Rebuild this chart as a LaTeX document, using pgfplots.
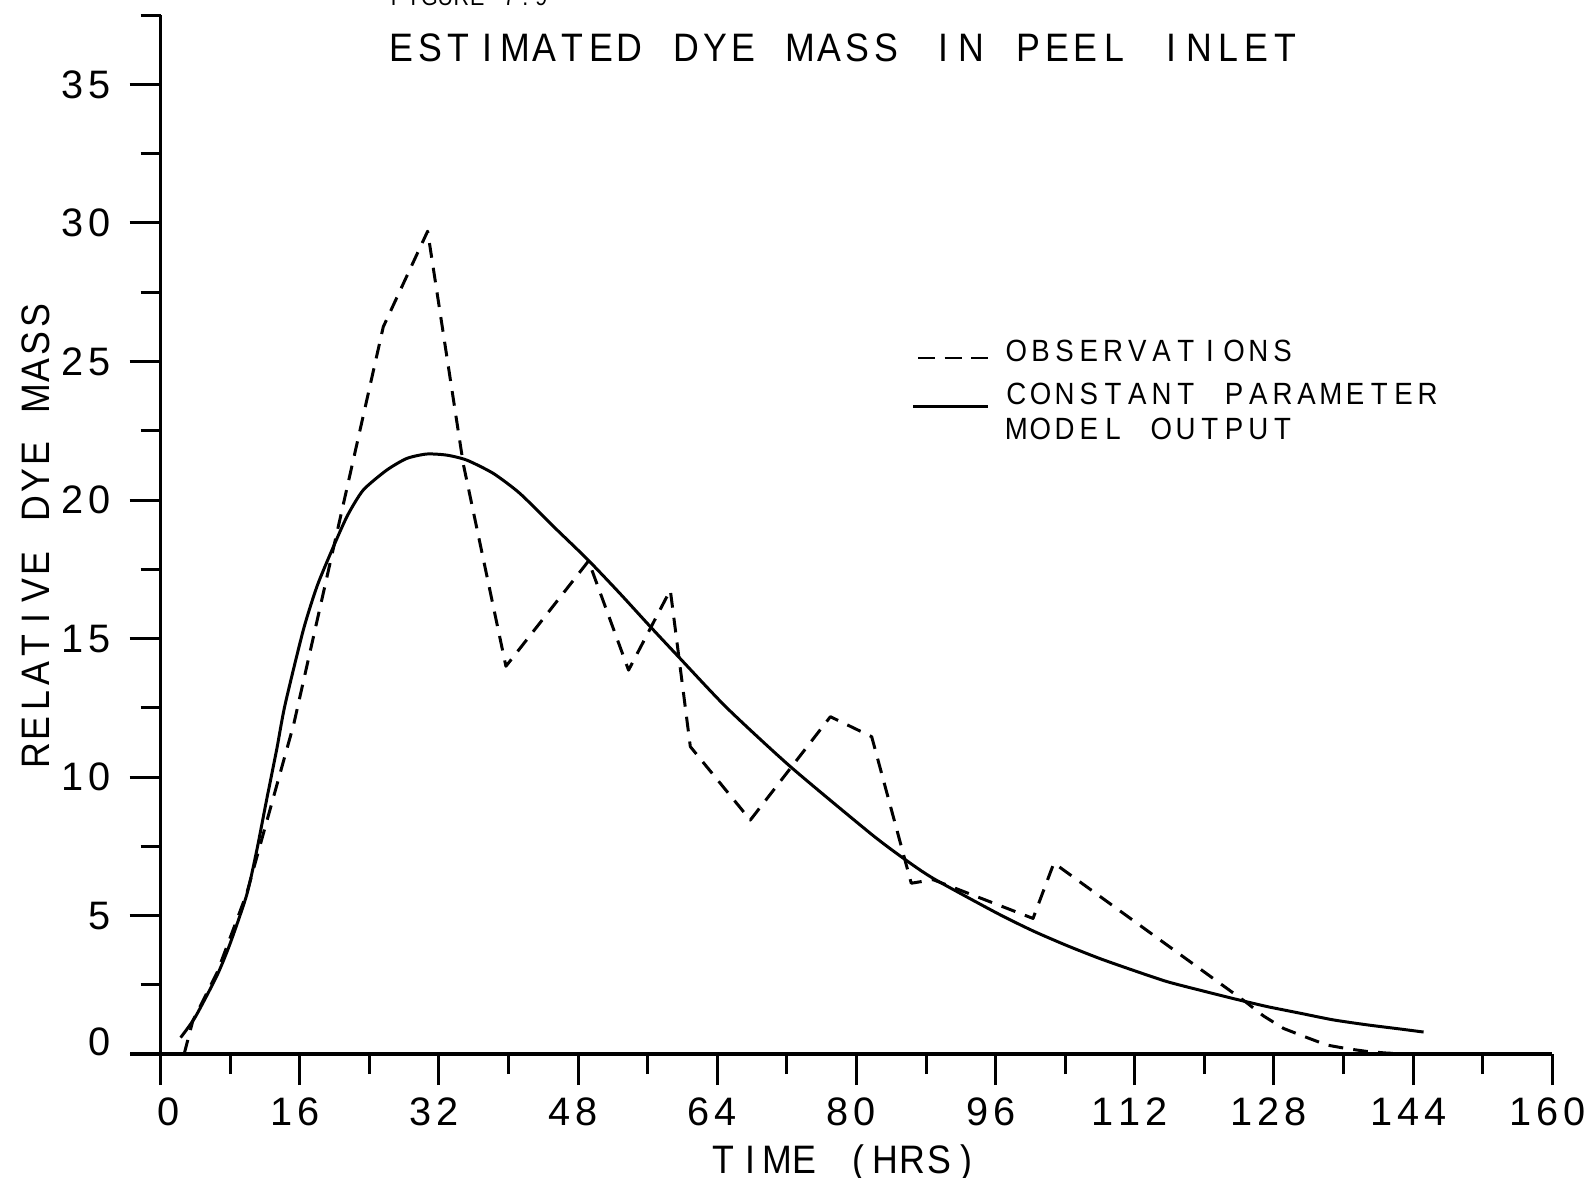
\documentclass[border=0pt]{standalone}
\usepackage{pgfplots}
\usepackage{pgfplotstable}
\pgfplotsset{compat=1.18}
\usepackage{fontspec}
\setmainfont{Liberation Sans}
\newfontfamily\letterfont{Liberation Sans}[FakeStretch=0.9]
\newfontfamily\digitfont{Liberation Sans}

% plotter-style lettering: every character sits centred in a cell of fixed width
\ExplSyntaxOn
\NewDocumentCommand \cells { m m }
  { \str_map_inline:nn {#2} { \makebox[#1][c]{##1} } }
\ExplSyntaxOff
\newcommand\tnum[1]{\cells{0.27cm}{#1}}

% model output (constant parameter model)
\pgfplotstableread{
t     m
2.3   0.60
4.0   1.35
6.5   2.85
8.0   4.00
9.9   5.75
11.05 7.35
12.2  9.20
13.35 11.00
14.3  12.60
16.4  15.30
18.0  16.90
19.86 18.31
21.5  19.45
23.3  20.36
26.0  21.08
28.3  21.50
30.6  21.66
32.9  21.62
35.2  21.44
38.25 20.96
41.3  20.24
45.15 19.05
49.1  17.85
52.8  16.63
56.3  15.43
59.7  14.29
65.1  12.50
72.4  10.38
81.6  7.97
85.4  7.07
88.8  6.35
96.1  5.10
100.3 4.45
104.2 3.92
108.0 3.45
111.8 3.03
115.7 2.62
119.5 2.31
123.3 2.01
127.2 1.72
131.0 1.48
134.8 1.24
138.7 1.06
142.5 0.91
145.2 0.80
}\modeltable

% observed dye mass
\pgfplotstableread{
t     m
2.7   0.00
3.7   1.20
6.5   2.95
9.9   5.80
15.3  11.90
20.4  19.00
25.6  26.25
30.7  29.70
34.8  21.30
39.7  14.00
49.2  17.80
53.8  13.86
58.6  16.75
60.9  11.10
67.8  8.45
77.0  12.18
81.75 11.46
86.3  6.17
88.8  6.30
100.3 4.90
102.7 6.90
124.9 1.85
126.8 1.38
129.1 0.93
131.8 0.60
134.1 0.33
136.4 0.20
138.7 0.10
141.0 0.04
144.0 0.00
}\obstable

\begin{document}
\begin{tikzpicture}
\begin{axis}[
  at={(0,0)}, anchor=south west, scale only axis,
  width=13.917cm, height=10.391cm,
  xmin=0, xmax=160, ymin=0, ymax=37.5,
  axis lines=left,
  axis line style={-, line width=1pt},
  x axis line style={-}, y axis line style={-},
  tick align=outside,
  xtick={0,16,...,160}, minor x tick num=1,
  ytick={0,5,...,35}, minor ytick={2.5,7.5,...,37.5},
  major tick length=0.31cm, minor tick length=0.2cm,
  every tick/.style={black, line width=0.85pt},
  xticklabels={\makebox[0.27cm][c]{\hspace{0.25cm}0},\tnum{16},\tnum{32},\tnum{48},\tnum{64},\tnum{80},\tnum{96},\tnum{112},\tnum{128},\tnum{144},\tnum{160}},
  yticklabels={\raisebox{0.12cm}[\height][\depth]{\tnum{0}},\tnum{5},\tnum{10},\tnum{15},\tnum{20},\tnum{25},\tnum{30},\tnum{35}},
  xticklabel style={font=\digitfont\fontsize{11.3}{13}\selectfont, anchor=north, inner sep=0pt, yshift=-0.12cm, xshift=-0.05cm},
  yticklabel style={font=\digitfont\fontsize{11.3}{13}\selectfont, anchor=east, inner sep=0pt, xshift=-0.154cm},
  clip=false,
]
\addplot[black, line width=0.85pt, smooth, tension=0.4] table[x=t, y=m] {\modeltable};
\addplot[black, line width=0.85pt, line join=round, dash pattern=on 4.2pt off 2.9pt] table[x=t, y=m] {\obstable};
% the time axis runs a little to the left of the mass axis
\draw[line width=1pt] (axis cs:-3.5,0) -- (axis cs:0,0);
\end{axis}

% caption line, title and axis names
\node[anchor=base west, inner sep=0pt, font=\letterfont\fontsize{6.8}{8}\selectfont] at (2.281,10.482) {\cells{0.16cm}{FIGURE 7.9}};
\node[anchor=base, inner sep=0pt, font=\letterfont\fontsize{11.3}{13}\selectfont] at (6.829,9.925) {\cells{0.285cm}{ESTIMATED DYE MASS IN PEEL INLET}};
\node[anchor=base, rotate=90, inner sep=0pt, font=\letterfont\fontsize{11.3}{13}\selectfont] at (-1.106,5.182) {\cells{0.275cm}{RELATIVE DYE MASS}};
\node[anchor=base, inner sep=0pt, font=\letterfont\fontsize{11.3}{13}\selectfont] at (6.844,-1.19) {\cells{0.27cm}{TIME (HRS)}};

% key
\draw[line width=0.85pt, dash pattern=on 4.84pt off 2.7pt] (7.574,6.962) -- (8.274,6.962);
\draw[line width=0.85pt] (7.524,6.476) -- (8.274,6.476);
\begin{scope}[every node/.style={anchor=base west, inner sep=0pt, font=\letterfont\fontsize{8.74}{10}\selectfont}]
\node at (8.429,6.922) {\cells{0.242cm}{OBSERVATIONS}};
\node at (8.429,6.496) {\cells{0.242cm}{CONSTANT PARAMETER}};
\node at (8.429,6.150) {\cells{0.242cm}{MODEL OUTPUT}};
\end{scope}

\pgfresetboundingbox
\path (-1.606,-1.228) rectangle (14.334,10.542);
\end{tikzpicture}
\end{document}
